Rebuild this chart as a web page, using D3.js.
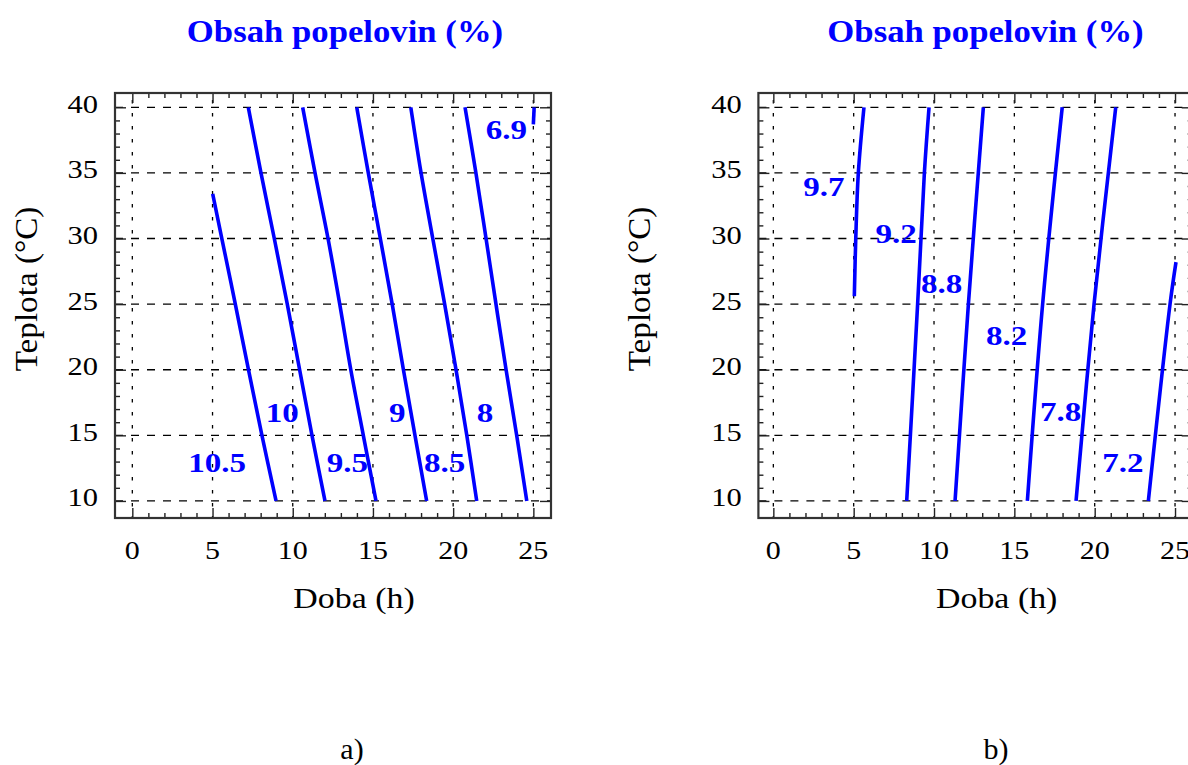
<!DOCTYPE html>
<html>
<head>
<meta charset="utf-8">
<script src="https://cdn.jsdelivr.net/npm/d3@7"></script>
<style>
  body { margin: 0; background: #fff; }
  svg { display: block; }
</style>
</head>
<body>
<svg id="chart" width="1188" height="765"></svg>
<script>
// ---- tick labels ----
const xTickValues = [0, 5, 10, 15, 20, 25];
const yTickValues = [10, 15, 20, 25, 30, 35, 40];
const xMinorValues = d3.range(0, 26);
const yMinorValues = d3.range(10, 41);

// ---- panel a: contour lines [doba (h), teplota (°C)] ----
const levelsA = ["10.5", "10", "9.5", "9", "8.5", "8", "6.9"];
const linesA = [
  [[8.96, 10], [8.08, 15], [7.24, 20], [6.42, 25], [5.58, 30], [5.01, 33.4]],
  [[12.01, 10], [11.20, 15], [10.43, 20], [9.66, 25], [8.85, 30], [8.02, 35], [7.23, 40]],
  [[15.19, 10], [14.40, 15], [13.62, 20], [12.93, 25], [12.20, 30], [11.39, 35], [10.62, 40]],
  [[18.35, 10], [17.62, 15], [16.90, 20], [16.20, 25], [15.46, 30], [14.71, 35], [13.99, 40]],
  [[21.47, 10], [20.85, 15], [20.18, 20], [19.47, 25], [18.73, 30], [18.00, 35], [17.36, 40]],
  [[24.59, 10], [23.96, 15], [23.30, 20], [22.67, 25], [22.05, 30], [21.42, 35], [20.74, 40]],
  [[25.00, 38.7], [25.05, 40]]
];
// label anchor points [doba, teplota]
const labelPosA = [[5.28, 12.9], [9.35, 16.75], [13.4, 12.95], [16.52, 16.75], [19.47, 12.95], [21.99, 16.75], [23.32, 38.3]];

// ---- panel b ----
const levelsB = ["9.7", "9.2", "8.8", "8.2", "7.8", "7.2"];
const linesB = [
  [[5.04, 25.6], [5.13, 30], [5.29, 35], [5.64, 40]],
  [[8.30, 10], [8.98, 25], [9.40, 35], [9.69, 40]],
  [[11.31, 10], [12.14, 25], [13.07, 40]],
  [[15.81, 10], [16.76, 25], [17.98, 40]],
  [[18.84, 10], [19.96, 25], [21.31, 40]],
  [[23.34, 10], [24.69, 25], [25.06, 28.2]]
];
const labelPosB = [[3.14, 34.0], [7.64, 30.4], [10.48, 26.6], [14.52, 22.6], [17.88, 16.8], [21.76, 12.9]];

const titleText = "Obsah popelovin (%)";
const xTitleText = "Doba (h)";
const yTitleText = "Teplota (°C)";

// ---- drawing ----
const BLUE = "#0000ff";
const SERIF = '"Liberation Serif", "Times New Roman", serif';
const svg = d3.select("#chart");

const yDomain = [8.70, 41.09];
const yRange = [518, 93];

const panels = [
  { key: "a", xDomain: [-1.08, 26.1], xRange: [115, 551], lines: linesA, levels: levelsA, labelPos: labelPosA,
    caption: "a)", captionX: 352, titleX: 345, yLabelX: 98, yTitleX: 37, xTitleX: 354 },
  { key: "b", xDomain: [-0.93, 26.1], xRange: [758.4, 1192.7], lines: linesB, levels: levelsB, labelPos: labelPosB,
    caption: "b)", captionX: 996, titleX: 985.5, yLabelX: 741.7, yTitleX: 650, xTitleX: 996.7 }
];

function stretchedText(g, str, x, y, o) {
  return g.append("text")
    .attr("transform", `translate(${x},${y}) rotate(${o.rotate || 0}) scale(${o.sx || 1},1)`)
    .attr("text-anchor", o.anchor || "middle")
    .attr("dy", o.dy || null)
    .attr("font-family", SERIF)
    .attr("font-size", o.size)
    .attr("font-weight", o.weight || "normal")
    .attr("fill", o.fill || "#000")
    .text(str);
}

panels.forEach(p => {
  const x = d3.scaleLinear().domain(p.xDomain).range(p.xRange);
  const y = d3.scaleLinear().domain(yDomain).range(yRange);
  const g = svg.append("g").attr("class", "panel-" + p.key);
  const [left, right] = p.xRange;
  const [bottom, top] = yRange;

  g.append("clipPath").attr("id", "clip-" + p.key)
    .append("rect").attr("x", left).attr("y", top).attr("width", right - left).attr("height", bottom - top);

  // dashed grid at the major ticks
  const grid = g.append("g").attr("stroke", "#000").attr("stroke-width", 1.3).attr("fill", "none");
  grid.selectAll("line.h").data(yTickValues).join("line").attr("class", "h")
    .attr("x1", left).attr("x2", right).attr("y1", d => y(d)).attr("y2", d => y(d))
    .attr("stroke-dasharray", "8,8");
  grid.selectAll("line.v").data(xTickValues).join("line").attr("class", "v")
    .attr("x1", d => x(d)).attr("x2", d => x(d)).attr("y1", bottom).attr("y2", top)
    .attr("stroke-dasharray", "3.5,9.5").attr("stroke-dashoffset", 1.5);

  // inward ticks on all four sides
  const tickColor = "#222";
  const addAxis = (axis, transform) => {
    const a = g.append("g").attr("transform", transform).call(axis);
    a.select(".domain").remove();
    a.selectAll("text").remove();
    a.selectAll("line").attr("stroke", tickColor).attr("stroke-width", 1.4);
  };
  const minorX = xMinorValues.filter(v => v % 5 !== 0);
  const minorY = yMinorValues.filter(v => v % 5 !== 0);
  addAxis(d3.axisBottom(x).tickValues(minorX).tickSize(-5).tickSizeOuter(0), `translate(0,${bottom})`);
  addAxis(d3.axisBottom(x).tickValues(xTickValues).tickSize(-10).tickSizeOuter(0), `translate(0,${bottom})`);
  addAxis(d3.axisTop(x).tickValues(minorX).tickSize(-5).tickSizeOuter(0), `translate(0,${top})`);
  addAxis(d3.axisTop(x).tickValues(xTickValues).tickSize(-10).tickSizeOuter(0), `translate(0,${top})`);
  addAxis(d3.axisLeft(y).tickValues(minorY).tickSize(-5).tickSizeOuter(0), `translate(${left},0)`);
  addAxis(d3.axisLeft(y).tickValues(yTickValues).tickSize(-11).tickSizeOuter(0), `translate(${left},0)`);
  addAxis(d3.axisRight(y).tickValues(minorY).tickSize(-5).tickSizeOuter(0), `translate(${right},0)`);
  addAxis(d3.axisRight(y).tickValues(yTickValues).tickSize(-11).tickSizeOuter(0), `translate(${right},0)`);

  // frame
  g.append("rect").attr("x", left).attr("y", top).attr("width", right - left).attr("height", bottom - top)
    .attr("fill", "none").attr("stroke", "#333").attr("stroke-width", 2.2);

  // contour lines
  const line = d3.line().x(d => x(d[0])).y(d => y(d[1])).curve(d3.curveCatmullRom.alpha(0.5));
  g.append("g").attr("clip-path", `url(#clip-${p.key})`)
    .selectAll("path").data(p.lines).join("path")
    .attr("d", line).attr("fill", "none").attr("stroke", BLUE).attr("stroke-width", 3.6);

  // contour level labels
  p.levels.forEach((lv, i) => {
    const [lx, ly] = p.labelPos[i];
    stretchedText(g, lv, x(lx), y(ly), { size: 28, weight: "bold", fill: BLUE, sx: 1.18, dy: "0.34em" });
  });

  // tick labels
  xTickValues.forEach(v => stretchedText(g, String(v), x(v), 559, { size: 25, sx: 1.2 }));
  yTickValues.forEach(v => stretchedText(g, String(v), p.yLabelX, y(v) + 5.5, { size: 25, sx: 1.22, anchor: "end" }));

  // titles
  stretchedText(g, titleText, p.titleX, 42, { size: 31, weight: "bold", fill: BLUE, sx: 1.12 });
  stretchedText(g, xTitleText, p.xTitleX, 608, { size: 30, sx: 1.13 });
  stretchedText(g, yTitleText, p.yTitleX, 289, { size: 31, sx: 1.07, rotate: -90 });
  stretchedText(g, p.caption, p.captionX, 759, { size: 30 });
});
</script>
</body>
</html>
